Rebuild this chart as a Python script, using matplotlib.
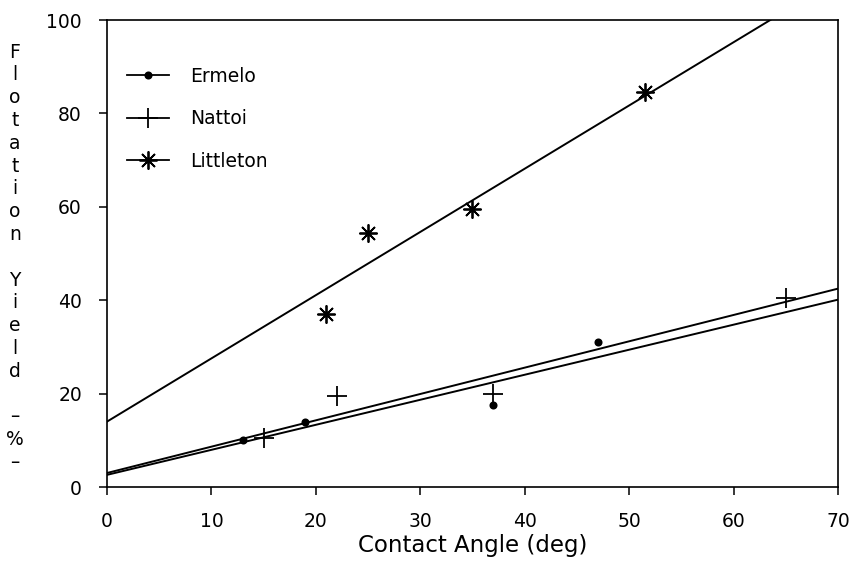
import matplotlib.pyplot as plt
import numpy as np
from matplotlib.lines import Line2D

# =====================================================
# DATA
# =====================================================

ermelo_angle = [13, 19, 37, 47]
ermelo_yield = [10.0, 14.0, 17.5, 31.0]

nattoi_angle = [15, 22, 37, 65]
nattoi_yield = [10.5, 19.5, 20.0, 40.5]

littleton_angle = [21, 25, 35, 51.5]
littleton_yield = [37.0, 54.5, 59.5, 84.5]

# fitted lines: intercept, slope
ermelo_fit = [2.6, 0.536]
nattoi_fit = [3.0, 0.564]
littleton_fit = [14.0, 1.354]

series_names = ["Ermelo", "Nattoi", "Littleton"]

x_ticks = [0, 10, 20, 30, 40, 50, 60, 70]
y_ticks = [0, 20, 40, 60, 80, 100]

ylabel_chars = list("Flotation") + [""] + list("Yield") + [""] + ["–", "%", "–"]

# =====================================================
# FIGURE
# =====================================================

plt.rcParams["font.family"] = "DejaVu Sans"

fig = plt.figure(figsize=(8.51, 5.64), dpi=100)
ax = fig.add_axes([0.1257, 0.1365, 0.859, 0.828])

markers = ["o", "+", (8, 2, 0)]
sizes = [4.5, 14, 13]
angles = [ermelo_angle, nattoi_angle, littleton_angle]
yields = [ermelo_yield, nattoi_yield, littleton_yield]
fits = [ermelo_fit, nattoi_fit, littleton_fit]

xs = np.array([0, 70])

for ang, yl, fit, mk, ms in zip(angles, yields, fits, markers, sizes):

    ax.plot(ang, yl, linestyle="none", marker=mk, markersize=ms,
            color="black", markeredgewidth=1.3)

    ax.plot(xs, fit[0] + fit[1] * xs, color="black", linewidth=1.4)

ax.set_xlim(0, 70)
ax.set_ylim(0, 100)

ax.set_xticks(x_ticks)
ax.set_yticks(y_ticks)

ax.tick_params(direction="out", length=6, width=1.1, labelsize=13.5,
               colors="black")
ax.tick_params(axis="x", pad=12)
ax.tick_params(axis="y", pad=12)

for s in ax.spines.values():
    s.set_linewidth(1.2)

ax.set_xlabel("Contact Angle (deg)", fontsize=16.5, labelpad=2)

# vertical stacked y label
top_px = 52
step_px = 22.8
for i, ch in enumerate(ylabel_chars):
    if ch:
        fig.text(15 / 851, 1 - (top_px + i * step_px) / 564, ch,
                 ha="center", va="center", fontsize=13.5)

# =====================================================
# LEGEND
# =====================================================

handles = [
    Line2D([0], [0], color="black", linewidth=1.3, marker=mk,
           markersize=ms, markeredgewidth=1.3)
    for mk, ms in zip(markers, sizes)
]

ax.legend(handles, series_names, loc="upper left",
          bbox_to_anchor=(127 / 851, 1 - 67 / 564),
          bbox_transform=fig.transFigure,
          frameon=False, fontsize=13.5, handlelength=2.25,
          handletextpad=1.1, labelspacing=1.25, borderpad=0,
          borderaxespad=0)

fig.savefig("out.png", dpi=100)
